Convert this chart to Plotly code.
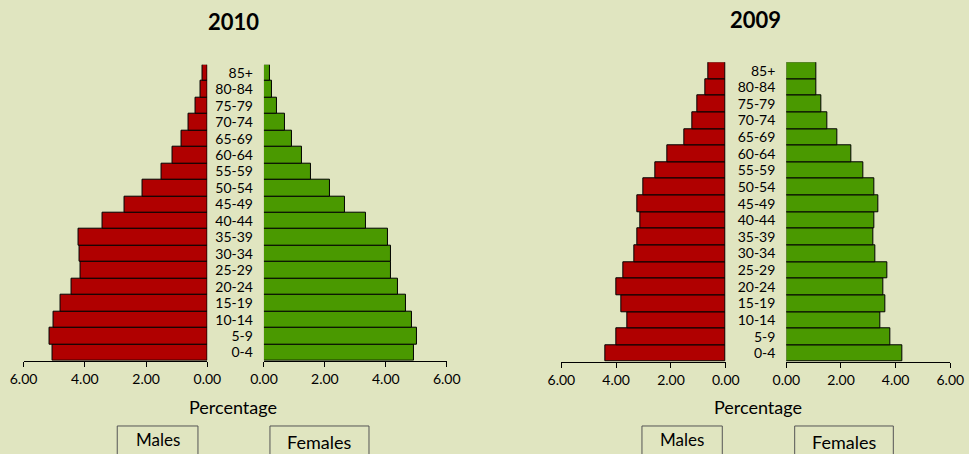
import plotly.graph_objects as go

age_groups = ["0-4", "5-9", "10-14", "15-19", "20-24", "25-29", "30-34", "35-39",
              "40-44", "45-49", "50-54", "55-59", "60-64", "65-69", "70-74", "75-79",
              "80-84", "85+"]

males_2010 = [5.06, 5.16, 5.02, 4.79, 4.44, 4.15, 4.18, 4.19, 3.43, 2.71, 2.12, 1.50,
              1.15, 0.83, 0.62, 0.39, 0.23, 0.16]
females_2010 = [4.92, 5.02, 4.85, 4.67, 4.41, 4.18, 4.18, 4.08, 3.34, 2.65, 2.16, 1.55,
                1.26, 0.91, 0.68, 0.43, 0.27, 0.21]

males_2009 = [4.41, 3.98, 3.59, 3.82, 3.99, 3.75, 3.32, 3.23, 3.12, 3.24, 3.01, 2.58,
              2.14, 1.53, 1.22, 1.02, 0.74, 0.62]
females_2009 = [4.23, 3.82, 3.44, 3.62, 3.55, 3.70, 3.26, 3.18, 3.22, 3.38, 3.23, 2.83,
                2.39, 1.86, 1.50, 1.28, 1.10, 1.10]

x_ticks = [0, 2, 4, 6]
x_tick_text = ["0.00", "2.00", "4.00", "6.00"]

BG = "#E0E5C0"
RED = "#B00000"
GREEN = "#4A9900"
FONT = "Lato"

fig = go.Figure()

def bars(x, color, xa, ya):
    return go.Bar(x=x, y=age_groups, orientation="h", marker=dict(color=color, line=dict(color="black", width=1)),
                  width=1, xaxis=xa, yaxis=ya, showlegend=False, hoverinfo="x+y")

fig.add_trace(bars(males_2010, RED, "x", "y"))
fig.add_trace(bars(females_2010, GREEN, "x2", "y"))
fig.add_trace(bars(males_2009, RED, "x3", "y2"))
fig.add_trace(bars(females_2009, GREEN, "x4", "y2"))

xcommon = dict(tickvals=x_ticks, ticktext=x_tick_text, ticks="outside", ticklen=5, tickcolor="black",
               showline=True, linecolor="black", linewidth=1, showgrid=False, zeroline=False,
               automargin=False, tickfont=dict(family=FONT, size=14, color="black"))

ycommon = dict(side="left", type="category", categoryorder="array", categoryarray=age_groups,
               tickmode="array", tickvals=age_groups, ticktext=age_groups, range=[-0.5, 17.5],
               showline=False, showgrid=False, zeroline=False, ticks="", ticklabelstandoff=10,
               automargin=False, tickfont=dict(family=FONT, size=14, color="black"))

fig.update_layout(
    width=969, height=454,
    paper_bgcolor=BG, plot_bgcolor=BG,
    margin=dict(l=0, r=0, t=0, b=0, autoexpand=False),
    bargap=0,
    font=dict(family=FONT, color="black"),
    xaxis=dict(domain=[0.0243, 0.214], range=[6, 0], anchor="y", **xcommon),
    xaxis2=dict(domain=[0.2724, 0.461], range=[0, 6], anchor="y", **xcommon),
    xaxis3=dict(domain=[0.5793, 0.749], range=[6, 0], anchor="y2", **xcommon),
    xaxis4=dict(domain=[0.8115, 0.9807], range=[0, 6], anchor="y2", **xcommon),
    yaxis=dict(domain=[0.2055, 0.8575], anchor="x2", **ycommon),
    yaxis2=dict(domain=[0.2033, 0.8628], anchor="x4", **ycommon),
)

annots = [
    dict(text="<b>2010</b>", x=0.2405, y=0.952, size=22),
    dict(text="<b>2009</b>", x=0.780, y=0.956, size=22),
    dict(text="Percentage", x=0.2405, y=0.104, size=18),
    dict(text="Percentage", x=0.7825, y=0.104, size=18),
    dict(text="Males", x=0.1627, y=0.033, size=17),
    dict(text="Females", x=0.3297, y=0.027, size=18),
    dict(text="Males", x=0.704, y=0.033, size=17),
    dict(text="Females", x=0.871, y=0.027, size=18),
]
for a in annots:
    fig.add_annotation(text=a["text"], x=a["x"], y=a["y"], xref="paper", yref="paper",
                       showarrow=False, xanchor="center", yanchor="middle",
                       font=dict(family=FONT, size=a["size"], color="black"))

boxes = [(0.121, 0.2043), (0.2786, 0.3808), (0.6625, 0.7454), (0.8201, 0.9219)]
for x0, x1 in boxes:
    fig.add_shape(type="rect", xref="paper", yref="paper", x0=x0, x1=x1, y0=-0.1, y1=0.0617,
                  line=dict(color="#555555", width=1), fillcolor="rgba(0,0,0,0)")

fig.write_html("out.html", config={"displayModeBar": False},
               post_script="document.body.style.margin='0';document.body.style.overflow='hidden';")
